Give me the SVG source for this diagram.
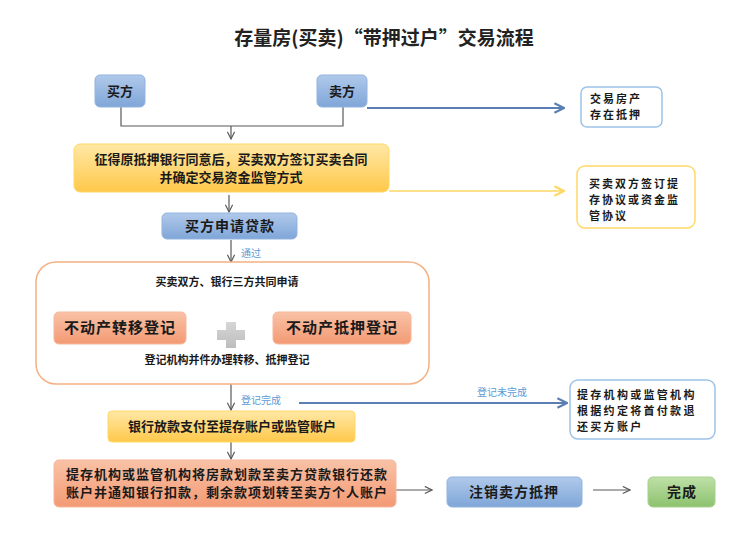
<svg xmlns="http://www.w3.org/2000/svg" width="748" height="547" viewBox="0 0 748 547">
<defs>
<linearGradient id="gBlue" x1="0" y1="0" x2="0" y2="1"><stop offset="0" stop-color="#b0c9ea"/><stop offset="1" stop-color="#7fa6d8"/></linearGradient>
<linearGradient id="gYel" x1="0" y1="0" x2="0" y2="1"><stop offset="0" stop-color="#ffe8a6"/><stop offset="1" stop-color="#ffc84a"/></linearGradient>
<linearGradient id="gOra" x1="0" y1="0" x2="0" y2="1"><stop offset="0" stop-color="#f9c2a6"/><stop offset="1" stop-color="#f39a74"/></linearGradient>
<linearGradient id="gGrn" x1="0" y1="0" x2="0" y2="1"><stop offset="0" stop-color="#bfe0a8"/><stop offset="1" stop-color="#8cc26e"/></linearGradient>
<linearGradient id="gPlus" x1="0" y1="0" x2="0" y2="1"><stop offset="0" stop-color="#d6d6d6"/><stop offset="1" stop-color="#bdbdbd"/></linearGradient>
<marker id="aGray" viewBox="0 0 10 10" refX="9" refY="5" markerWidth="9" markerHeight="9" markerUnits="userSpaceOnUse" orient="auto"><path d="M1,1 L9,5 L1,9" fill="none" stroke="#595959" stroke-width="1.3"/></marker>
<marker id="aBlue" viewBox="0 0 10 10" refX="9" refY="5" markerWidth="12" markerHeight="12" markerUnits="userSpaceOnUse" orient="auto"><path d="M1,1 L9,5 L1,9" fill="none" stroke="#5b7fb3" stroke-width="1.8"/></marker>
<marker id="aYel" viewBox="0 0 10 10" refX="9" refY="5" markerWidth="12" markerHeight="12" markerUnits="userSpaceOnUse" orient="auto"><path d="M1,1 L9,5 L1,9" fill="none" stroke="#ffd766" stroke-width="1.8"/></marker>
</defs>
<style>
text{font-family:"Noto Sans CJK SC","Noto Sans",sans-serif;fill:#1a1a1a;text-anchor:middle;font-weight:700}
.t{font-size:19px;fill:#222}
.s11{font-size:11px}
.s13{font-size:13px}
.s14{font-size:14px;letter-spacing:1px}
.s15{font-size:15px;letter-spacing:1px}
.lbl{font-size:10px;fill:#5b9bd5;text-anchor:start;font-weight:400}
.lt{text-anchor:start;font-size:11px;letter-spacing:2px}
.blue{fill:url(#gBlue);stroke:#93b3de;stroke-width:1}
.yel{fill:url(#gYel);stroke:#ffd966;stroke-width:1}
.ora{fill:url(#gOra);stroke:#f7b79b;stroke-width:1}
.grn{fill:url(#gGrn);stroke:#a9d18e;stroke-width:1}
.wb{fill:#fff;stroke:#9dc3e6;stroke-width:1.5}
.wy{fill:#fff;stroke:#ffd966;stroke-width:1.5}
.ln{fill:none;stroke:#595959;stroke-width:1.2}
</style>
<text class="t" x="384" y="45">存量房(买卖)“带押过户”交易流程</text>

<g id="connectors">
<path class="ln" d="M121,107 V126 H343 V107"/>
<path class="ln" d="M231,126 V139" marker-end="url(#aGray)"/>
<path d="M367,108 H564" fill="none" stroke="#5b7fb3" stroke-width="2" marker-end="url(#aBlue)"/>
<path d="M389,191 H564" fill="none" stroke="#ffe08a" stroke-width="2" marker-end="url(#aYel)"/>
<path class="ln" d="M229,195 V212" marker-end="url(#aGray)"/>
<path class="ln" d="M231,240 V262" marker-end="url(#aGray)"/>
<path class="ln" d="M121,312 V293 H341 V312"/>
<path class="ln" d="M121,352 V371 H341 V352"/>
<path class="ln" d="M231,371 V410" marker-end="url(#aGray)"/>
<path d="M299,403 H567" fill="none" stroke="#5b7fb3" stroke-width="2" marker-end="url(#aBlue)"/>
<path class="ln" d="M231,442 V459" marker-end="url(#aGray)"/>
<path class="ln" d="M396,490 H432" marker-end="url(#aGray)"/>
<path class="ln" d="M593,490 H630" marker-end="url(#aGray)"/>
<text class="lbl" x="241" y="257">通过</text>
<text class="lbl" x="241" y="404">登记完成</text>
<text class="lbl" x="477" y="396">登记未完成</text>
</g>

<g id="buyer"><rect class="blue" x="95" y="75" width="50" height="32" rx="5"/><text class="s13" x="120" y="96">买方</text></g>
<g id="seller"><rect class="blue" x="317" y="75" width="50" height="32" rx="5"/><text class="s13" x="342" y="96">卖方</text></g>
<g id="mortgage-note"><rect class="wb" x="581" y="87" width="81" height="40" rx="6"/><text class="lt" x="590" y="103">交易房产</text><text class="lt" x="590" y="119">存在抵押</text></g>
<g id="contract"><rect class="yel" x="74" y="144" width="315" height="48" rx="6"/><text class="s13" x="231" y="164">征得原抵押银行同意后，买卖双方签订买卖合同</text><text class="s13" x="231" y="182">并确定交易资金监管方式</text></g>
<g id="escrow-note"><rect class="wy" x="577" y="166" width="118" height="62" rx="8"/><text class="lt" x="589" y="188">买卖双方签订提</text><text class="lt" x="589" y="204">存协议或资金监</text><text class="lt" x="589" y="220">管协议</text></g>
<g id="loan"><rect class="blue" x="162" y="213" width="135" height="26" rx="5"/><text class="s14" x="230" y="231">买方申请贷款</text></g>
<g id="registration"><rect x="36" y="262" width="393" height="122" rx="20" fill="#fff" stroke="#f4b183" stroke-width="1.5"/>
<text class="s11" x="227" y="286">买卖双方、银行三方共同申请</text>
<text class="s11" x="227" y="364">登记机构并件办理转移、抵押登记</text>
<path d="M226,322 h10 v8 h9 v10 h-9 v8 h-10 v-8 h-9 v-10 h9 z" fill="url(#gPlus)"/></g>
<g id="transfer"><rect class="ora" x="54" y="312" width="132" height="32" rx="5"/><text class="s15" x="120" y="333">不动产转移登记</text></g>
<g id="pledge"><rect class="ora" x="273" y="312" width="138" height="32" rx="5"/><text class="s15" x="342" y="333">不动产抵押登记</text></g>
<g id="refund-note"><rect class="wb" x="570" y="380" width="145" height="59" rx="8"/><text class="lt" x="577" y="399" style="letter-spacing:2.3px">提存机构或监管机构</text><text class="lt" x="577" y="415" style="letter-spacing:2.3px">根据约定将首付款退</text><text class="lt" x="577" y="431" style="letter-spacing:2.3px">还买方账户</text></g>
<g id="bank-pay"><rect class="yel" x="108" y="411" width="247" height="31" rx="4"/><text class="s13" x="232" y="431">银行放款支付至提存账户或监管账户</text></g>
<g id="transfer-funds"><rect class="ora" x="54" y="460" width="342" height="47" rx="5"/><text class="s13" x="227" y="479" style="letter-spacing:1px">提存机构或监管机构将房款划款至卖方贷款银行还款</text><text class="s13" x="227" y="497" style="letter-spacing:1px">账户并通知银行扣款，剩余款项划转至卖方个人账户</text></g>
<g id="cancel"><rect class="blue" x="447" y="477" width="135" height="30" rx="5"/><text class="s14" x="514" y="497">注销卖方抵押</text></g>
<g id="done"><rect class="grn" x="648" y="477" width="67" height="30" rx="5"/><text class="s14" x="682" y="497">完成</text></g>
</svg>
